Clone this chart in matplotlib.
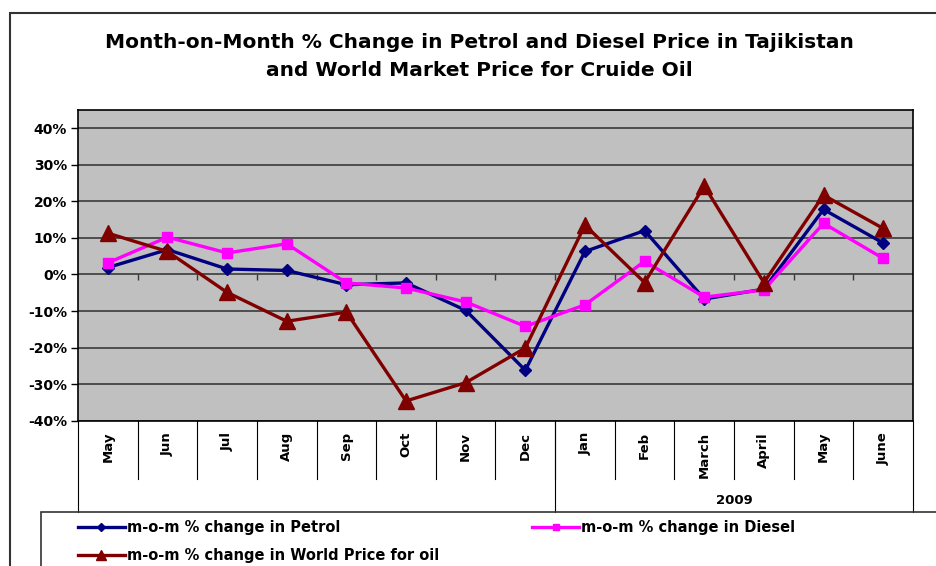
import matplotlib
matplotlib.use("Agg")
import matplotlib.pyplot as plt
import matplotlib.transforms as mtransforms
from matplotlib.patches import Rectangle
from matplotlib.ticker import FuncFormatter, MultipleLocator

# DejaVu Sans is a bit wider than Arial, closer to the stretched look of the original
plt.rcParams['font.family'] = ['DejaVu Sans']

# Data (fractions, shown as %)
months = ['May', 'Jun', 'Jul', 'Aug', 'Sep', 'Oct', 'Nov', 'Dec',
          'Jan', 'Feb', 'March', 'April', 'May', 'June']
year_label = '2009'
year_start = 8  # index of Jan 2009

petrol = [0.019, 0.068, 0.015, 0.011, -0.028, -0.023, -0.098, -0.262,
          0.063, 0.120, -0.067, -0.040, 0.178, 0.086]
diesel = [0.032, 0.102, 0.059, 0.084, -0.023, -0.037, -0.075, -0.142,
          -0.083, 0.036, -0.062, -0.042, 0.140, 0.044]
world = [0.113, 0.063, -0.049, -0.128, -0.103, -0.346, -0.296, -0.201,
         0.135, -0.022, 0.242, -0.022, 0.217, 0.126]

title = ('Month-on-Month % Change in Petrol and Diesel Price in Tajikistan\n'
         'and World Market Price for Cruide Oil')

W, H = 937, 566
fig = plt.figure(figsize=(W / 100, H / 100), dpi=100)

# outer chart frame (only top and left edges fall inside the picture)
fig.add_artist(Rectangle((10 / W, -0.1), 1.2, 1 - 13 / H + 0.1,
                         transform=fig.transFigure, fill=False,
                         edgecolor='#333333', linewidth=1.5))

left, right, top, bottom = 78, 913, 110, 420.7
ax = fig.add_axes([left / W, 1 - bottom / H, (right - left) / W, (bottom - top) / H])
ax.set_facecolor('#C0C0C0')

x = list(range(len(months)))
ax.plot(x, petrol, color='#000080', lw=2.4, marker='D', ms=6,
        label='m-o-m % change in Petrol', zorder=3)
ax.plot(x, diesel, color='#FF00FF', lw=2.4, marker='s', ms=7,
        label='m-o-m % change in Diesel', zorder=4)
ax.plot(x, world, color='#800000', lw=2.4, marker='^', ms=11,
        label='m-o-m % change in World Price for oil', zorder=5)

ax.set_xlim(-0.5, len(months) - 0.5)
ax.set_ylim(-0.4, 0.45)
ax.yaxis.set_major_locator(MultipleLocator(0.1))
ax.yaxis.set_major_formatter(FuncFormatter(lambda v, p: f'{v * 100:.0f}%'))
ax.grid(axis='y', color='#3a3a3a', linewidth=1.2, zorder=1)
ax.set_axisbelow(True)
for lab in ax.get_yticklabels():
    lab.set_fontweight('bold')
ax.tick_params(axis='y', length=5, width=1, labelsize=10, pad=3)
ax.set_xticks([])
for s in ax.spines.values():
    s.set_color('black')
    s.set_linewidth(1.2)

# small category ticks on the zero line
bounds = [i - 0.5 for i in range(1, len(months))]
ax.vlines(bounds, -0.014, 0, color='#3a3a3a', lw=1, zorder=2)

# two-level category axis
tr = mtransforms.blended_transform_factory(ax.transData, ax.transAxes)
ph = bottom - top
for i, m in enumerate(months):
    ax.text(i, -(432 - bottom) / ph, m, transform=tr, rotation=90,
            ha='center', va='top', fontsize=9.5, fontweight='bold')
for b in bounds:
    ax.plot([b, b], [0, -(479 - bottom) / ph], transform=tr, color='black',
            lw=0.8, clip_on=False)
for b in [-0.5, year_start - 0.5, len(months) - 0.5]:
    ax.plot([b, b], [0, -(512 - bottom) / ph], transform=tr, color='black',
            lw=0.8, clip_on=False)
ax.text((year_start + len(months) - 1) / 2, -(500 - bottom) / ph, year_label,
        transform=tr, ha='center', va='center', fontsize=9.5, fontweight='bold')

fig.suptitle(title, x=479 / W, y=1 - 33 / H, fontsize=14.5, fontweight='bold',
             linespacing=1.6, va='top')

# legend box
fig.add_artist(Rectangle((41 / W, -0.1), 1.2, 0.1 + 1 - 512 / H,
                         transform=fig.transFigure, fill=False,
                         edgecolor='#333333', linewidth=1.2))
hs, ls = ax.get_legend_handles_labels()
order = [0, 2, 1]
fig.legend([hs[i] for i in order], [ls[i] for i in order], ncol=2,
           loc='upper left', bbox_to_anchor=(78 / W, 1 - 520 / H),
           frameon=False, borderpad=0, borderaxespad=0, handlelength=3.2,
           handletextpad=0.15, columnspacing=6.4, labelspacing=0.9,
           markerscale=0.7, prop={'weight': 'bold', 'size': 10.5})

fig.savefig('out.png', dpi=100)
